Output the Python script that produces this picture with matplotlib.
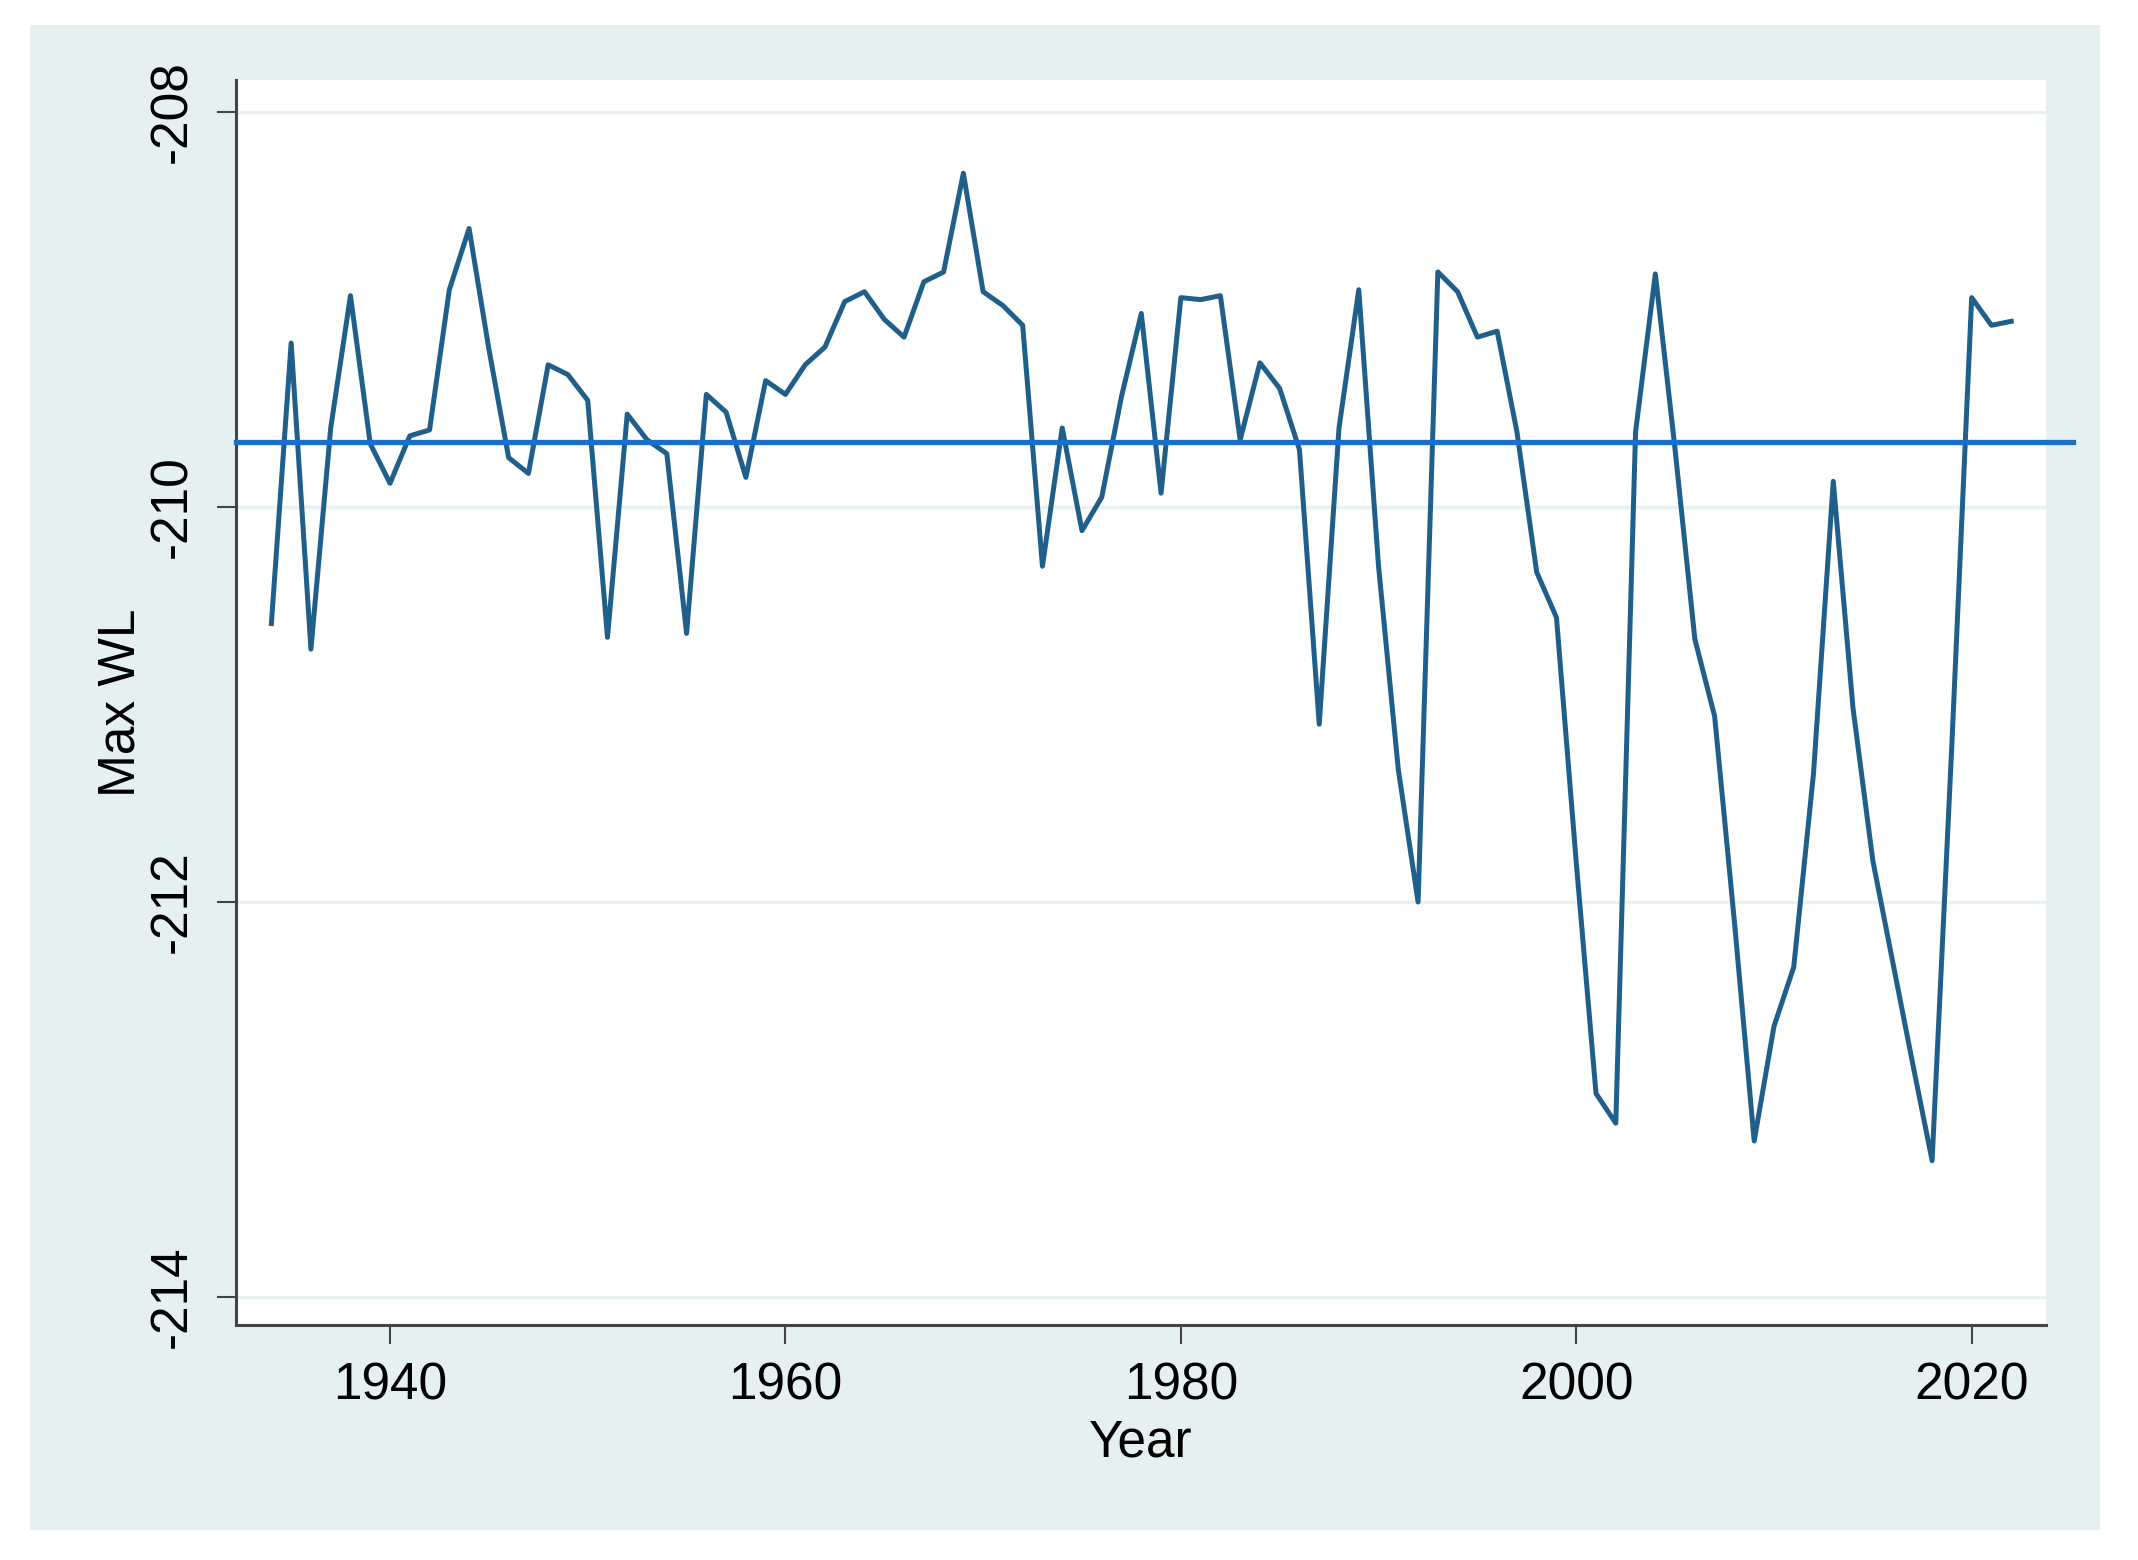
import matplotlib.pyplot as plt
from matplotlib.patches import Rectangle

years = list(range(1934, 2023))
max_wl = [
    -210.59, -209.17, -210.72, -209.60, -208.93, -209.68, -209.88, -209.64, -209.61, -208.90,
    -208.59, -209.20, -209.75, -209.83, -209.28, -209.33, -209.46, -210.66, -209.53, -209.66,
    -209.73, -210.64, -209.43, -209.52, -209.85, -209.36, -209.43, -209.28, -209.19, -208.96,
    -208.91, -209.05, -209.14, -208.86, -208.81, -208.31, -208.91, -208.98, -209.08, -210.30,
    -209.60, -210.12, -209.95, -209.44, -209.02, -209.93, -208.94, -208.95, -208.93, -209.66,
    -209.27, -209.40, -209.71, -211.10, -209.60, -208.90, -210.30, -211.33, -212.00, -208.81,
    -208.91, -209.14, -209.11, -209.62, -210.33, -210.56, -211.80, -212.97, -213.12, -209.62,
    -208.82, -209.71, -210.67, -211.06, -212.10, -213.21, -212.63, -212.33, -211.35, -209.87,
    -211.02, -211.79, -212.30, -212.81, -213.31, -211.20, -208.94, -209.08, -209.06,
]
ref_level = -209.67
x_ticks = [1940, 1960, 1980, 2000, 2020]
y_ticks = [-208, -210, -212, -214]

BG = '#e5f0f1'
plt.rcParams['font.family'] = ['Liberation Sans', 'DejaVu Sans']

fig = plt.figure(figsize=(21.38, 15.6), dpi=100)
fig.patch.set_facecolor('white')
# stata style outer panel
fig.add_artist(Rectangle((30 / 2138, 1 - 1530 / 1560), 2070 / 2138, 1505 / 1560,
                         transform=fig.transFigure, facecolor=BG, edgecolor='none', zorder=0))

ax = fig.add_axes([236 / 2138, 1 - 1325 / 1560, 1810 / 2138, 1245 / 1560])
ax.set_facecolor('white')
ax.set_xlim(1932.21, 2023.76)
ax.set_ylim(-214.142, -207.838)

for yt in y_ticks:
    ax.axhline(yt, color='#e8f2f3', lw=2.5, zorder=1)

ax.plot(years, max_wl, color='#205f8a', lw=3.6, zorder=3)
ax.axhline(ref_level, xmin=0, xmax=1.015, color='#1a6fc9', lw=3.8, clip_on=False, zorder=4)

ax.set_xticks(x_ticks)
ax.set_yticks(y_ticks)
ax.set_yticklabels([str(v) for v in y_ticks], rotation=90, va='center')
ax.tick_params(axis='both', labelsize=37, length=14, width=1.5, color='#444444')
ax.tick_params(axis='x', pad=12)
ax.tick_params(axis='y', pad=14)

for side in ['top', 'right']:
    ax.spines[side].set_visible(False)
for side in ['left', 'bottom']:
    ax.spines[side].set_color('#444444')
    ax.spines[side].set_linewidth(2.2)

ax.set_xlabel('Year', fontsize=37, labelpad=6)
ax.set_ylabel('Max WL', fontsize=37, labelpad=2)

fig.savefig('out.png', dpi=100)
